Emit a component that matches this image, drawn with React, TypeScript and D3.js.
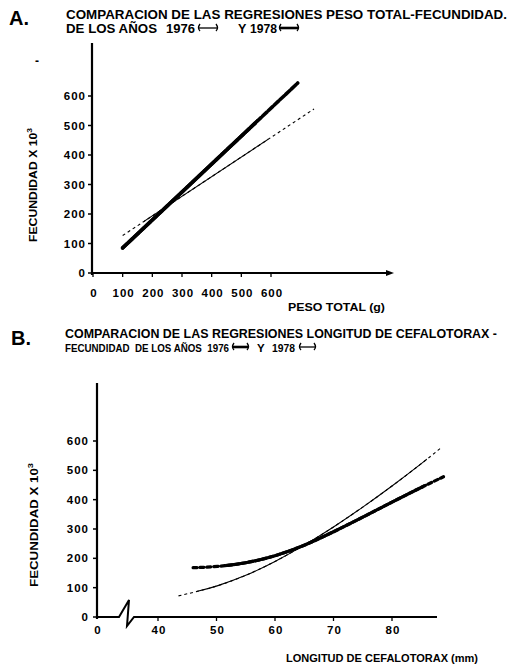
import * as d3 from "d3";

// ---- data ----
const yTicks = [0, 100, 200, 300, 400, 500, 600];
const xTicksA = [0, 100, 200, 300, 400, 500, 600];
const xTicksB = [40, 50, 60, 70, 80];

// panel A: straight regressions, peso total (g) vs fecundidad x10^3
const pesoLine1976: [number, number][] = [[100, 127], [745, 556]];
const pesoSolid1976 = [172, 590];
const pesoLine1978: [number, number][] = [[100, 85], [690, 644]];
const pesoSolid1978 = [100, 553];

// panel B: curves, longitud cefalotorax (mm) vs fecundidad x10^3
const cefThick1976: [number, number][] = [
  [46, 168], [50, 171], [55, 183], [60, 207], [65, 243], [70, 290],
  [75, 340], [80, 392], [85, 442], [88.8, 478],
];
const cefThickSolid = [51.5, 85.5];
const cefThin1978: [number, number][] = [
  [43.5, 72], [46.5, 86], [50, 104], [55, 140], [60, 188], [65, 244],
  [70, 306], [75, 374], [80, 446], [85, 522], [88.4, 577],
];
const cefThinSolid = [46.5, 86];

const FONT = "'Liberation Sans', Arial, sans-serif";

const LegendMark = ({ x, y, w, bold }: { x: number; y: number; w: number; bold: boolean }) => (
  <g fill="none" stroke="#000">
    <path d={`M${x + 2},${y - 4} Q${x - 1},${y} ${x + 2},${y + 3}`} strokeWidth={1.3} />
    <path d={`M${x + w - 2},${y - 4} Q${x + w + 1},${y} ${x + w - 2},${y + 3}`} strokeWidth={1.3} />
    <line x1={x + 1} x2={x + w - 1} y1={y} y2={y} strokeWidth={bold ? 2.6 : 1.3} />
  </g>
);

export default function App() {
  // ---------- panel A scales ----------
  const xA = d3.scaleLinear().domain([0, 600]).range([93, 271]);
  const yA = d3.scaleLinear().domain([0, 600]).range([273, 96]);
  const lineA = d3
    .line<[number, number]>()
    .x((d) => xA(d[0]))
    .y((d) => yA(d[1]));

  // ---------- panel B scales ----------
  const xB = d3.scaleLinear().domain([40, 80]).range([158, 392]);
  const yB = d3.scaleLinear().domain([0, 600]).range([617, 441]);
  const lineB = d3
    .line<[number, number]>()
    .x((d) => xB(d[0]))
    .y((d) => yB(d[1]))
    .curve(d3.curveBasis);

  const clip = (id: string, x0: number, x1: number) => (
    <clipPath id={id}>
      <rect x={x0} y={0} width={x1 - x0} height={664} />
    </clipPath>
  );

  const tickStyle = { fontFamily: FONT, fontWeight: 700, fontSize: 11.5, letterSpacing: 1 };
  const titleStyle = { fontFamily: FONT, fontWeight: 700, fontSize: 12.5 };

  return (
    <svg
      width={520}
      height={664}
      style={{ position: "absolute", left: 0, top: 0, background: "#fff" }}
    >
      <defs>
        {clip("a76", xA(pesoSolid1976[0]), xA(pesoSolid1976[1]))}
        {clip("a78", xA(pesoSolid1978[0]) - 3, xA(pesoSolid1978[1]))}
        {clip("b76", xB(cefThickSolid[0]), xB(cefThickSolid[1]))}
        {clip("b78", xB(cefThinSolid[0]), xB(cefThinSolid[1]))}
      </defs>

      {/* ================= PANEL A ================= */}
      <text x={9} y={25} style={{ fontFamily: FONT, fontWeight: 700, fontSize: 20 }}>A.</text>
      <text x={66} y={19} textLength={441} lengthAdjust="spacingAndGlyphs" style={titleStyle}>
        COMPARACION DE LAS REGRESIONES PESO TOTAL-FECUNDIDAD.
      </text>
      <g style={titleStyle}>
        <text x={66} y={33} textLength={91} lengthAdjust="spacingAndGlyphs">DE LOS AÑOS</text>
        <text x={166} y={33} textLength={29} lengthAdjust="spacingAndGlyphs">1976</text>
        <text x={238} y={33}>Y</text>
        <text x={250} y={33} textLength={27} lengthAdjust="spacingAndGlyphs">1978</text>
      </g>
      <LegendMark x={198} y={28} w={20} bold={false} />
      <LegendMark x={279} y={28} w={20} bold={true} />
      <text x={35} y={65} style={{ fontFamily: FONT, fontWeight: 700, fontSize: 12 }}>-</text>

      {/* axes */}
      <line x1={92} x2={92} y1={43} y2={275} stroke="#000" strokeWidth={2.2} />
      <line x1={91} x2={388} y1={273} y2={273} stroke="#000" strokeWidth={2} />
      <path d="M386,270 L394,273 L386,276 Z" fill="#000" />
      {yTicks.map((t) => (
        <g key={"ya" + t}>
          <line x1={88} x2={92} y1={yA(t)} y2={yA(t)} stroke="#000" strokeWidth={1.5} />
          <text x={86} y={yA(t) + 4} textAnchor="end" style={tickStyle}>{t}</text>
        </g>
      ))}
      {xTicksA.map((t) => (
        <g key={"xa" + t}>
          <line x1={xA(t)} x2={xA(t)} y1={273} y2={277} stroke="#000" strokeWidth={1.3} />
          <text x={xA(t) + 1} y={297} textAnchor="middle" style={tickStyle}>{t}</text>
        </g>
      ))}
      <text x={288} y={311} textLength={97} lengthAdjust="spacingAndGlyphs"
        style={{ fontFamily: FONT, fontWeight: 700, fontSize: 10 }}>PESO TOTAL (g)</text>
      <text transform={`translate(37,185) rotate(-90)`} textAnchor="middle"
        textLength={114} lengthAdjust="spacingAndGlyphs"
        style={{ fontFamily: FONT, fontWeight: 700, fontSize: 11.5 }}>
        FECUNDIDAD X 10<tspan dy={-5} fontSize={8}>3</tspan>
      </text>

      {/* regressions A */}
      <path d={lineA(pesoLine1976) ?? ""} fill="none" stroke="#000" strokeWidth={1.1} strokeDasharray="3 3" />
      <path d={lineA(pesoLine1976) ?? ""} fill="none" stroke="#000" strokeWidth={1.1} clipPath="url(#a76)" />
      <path d={lineA(pesoLine1978) ?? ""} fill="none" stroke="#000" strokeWidth={3.6} strokeDasharray="6 2" strokeLinecap="round" />
      <path d={lineA(pesoLine1978) ?? ""} fill="none" stroke="#000" strokeWidth={3.6} strokeLinecap="round" clipPath="url(#a78)" />

      {/* ================= PANEL B ================= */}
      <text x={11} y={345} style={{ fontFamily: FONT, fontWeight: 700, fontSize: 20 }}>B.</text>
      <text x={65} y={338} textLength={432} lengthAdjust="spacingAndGlyphs" style={titleStyle}>
        COMPARACION DE LAS REGRESIONES LONGITUD DE CEFALOTORAX -
      </text>
      <g style={{ ...titleStyle, fontSize: 11.5 }}>
        <text x={65} y={352} textLength={164} lengthAdjust="spacingAndGlyphs" xmlSpace="preserve">
          FECUNDIDAD  DE LOS AÑOS  1976
        </text>
        <text x={257} y={352}>Y</text>
        <text x={272} y={352} textLength={23} lengthAdjust="spacingAndGlyphs">1978</text>
      </g>
      <LegendMark x={232} y={347} w={17} bold={true} />
      <LegendMark x={299} y={347} w={17} bold={false} />

      {/* axes */}
      <line x1={97} x2={97} y1={383} y2={619} stroke="#000" strokeWidth={2.2} />
      <path d="M96,617 H119 L129,600 L127,626 L134,617 H437" fill="none" stroke="#000" strokeWidth={2} strokeLinejoin="miter" />
      {yTicks.map((t) => (
        <g key={"yb" + t}>
          <line x1={93} x2={97} y1={yB(t)} y2={yB(t)} stroke="#000" strokeWidth={1.5} />
          <text x={89} y={yB(t) + 4} textAnchor="end" style={tickStyle}>{t}</text>
        </g>
      ))}
      <text x={98} y={634} textAnchor="middle" style={tickStyle}>0</text>
      {xTicksB.map((t) => (
        <g key={"xb" + t}>
          <line x1={xB(t)} x2={xB(t)} y1={617} y2={621} stroke="#000" strokeWidth={1.3} />
          <text x={xB(t) + 1} y={634} textAnchor="middle" style={tickStyle}>{t}</text>
        </g>
      ))}
      <text x={286} y={662} textLength={192} lengthAdjust="spacingAndGlyphs"
        style={{ fontFamily: FONT, fontWeight: 700, fontSize: 10 }}>LONGITUD DE CEFALOTORAX (mm)</text>
      <text transform={`translate(38,525) rotate(-90)`} textAnchor="middle"
        textLength={124} lengthAdjust="spacingAndGlyphs"
        style={{ fontFamily: FONT, fontWeight: 700, fontSize: 11.5 }}>
        FECUNDIDAD X 10<tspan dy={-5} fontSize={8}>3</tspan>
      </text>

      {/* regressions B */}
      <path d={lineB(cefThin1978) ?? ""} fill="none" stroke="#000" strokeWidth={1.1} strokeDasharray="3 3" />
      <path d={lineB(cefThin1978) ?? ""} fill="none" stroke="#000" strokeWidth={1.1} clipPath="url(#b78)" />
      <path d={lineB(cefThick1976) ?? ""} fill="none" stroke="#000" strokeWidth={3.2} strokeDasharray="4 3" strokeLinecap="round" />
      <path d={lineB(cefThick1976) ?? ""} fill="none" stroke="#000" strokeWidth={3.2} clipPath="url(#b76)" />
    </svg>
  );
}
